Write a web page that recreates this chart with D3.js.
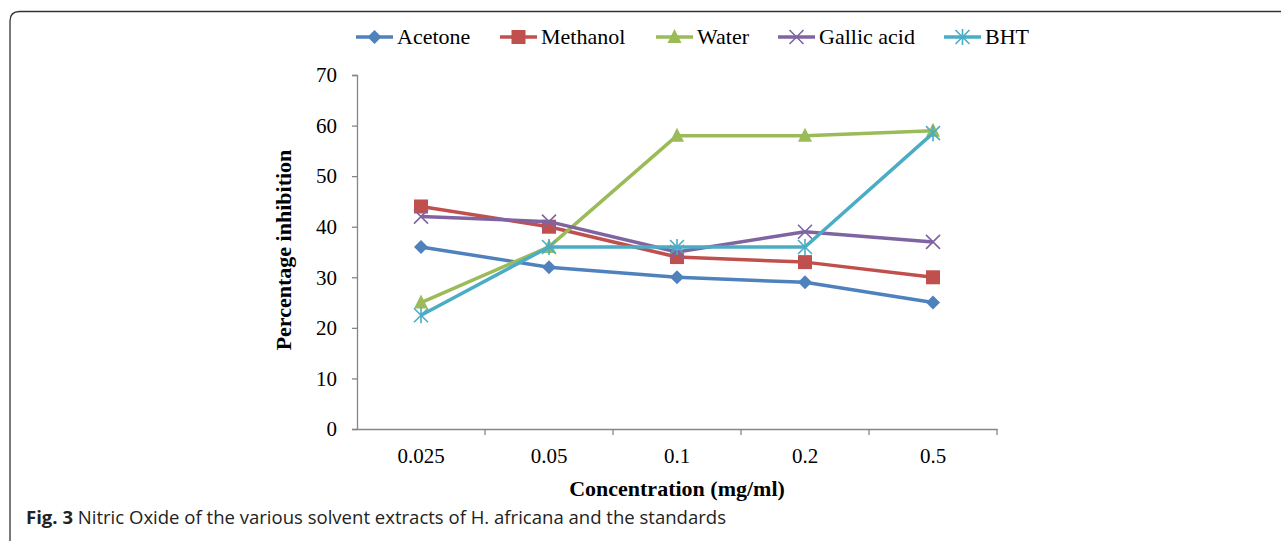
<!DOCTYPE html>
<html><head><meta charset="utf-8">
<script src="https://cdn.jsdelivr.net/npm/d3@7"></script>
<style>body{margin:0;background:#fff}svg{display:block}</style>
</head><body>
<svg id="c" width="1281" height="541"></svg>
<script>
const categories = ["0.025","0.05","0.1","0.2","0.5"];
const acetone = [36,32,30,29,25];
const methanol = [44,40,34,33,30];
const water = [25,36,58,58,59];
const gallic = [42,41,35,39,37];
const bht = [22.5,36,36,36,58.5];
const yTicks = [0,10,20,30,40,50,60,70];
const seriesNames = ["Acetone","Methanol","Water","Gallic acid","BHT"];
const seriesColors = ["#4F81BD","#C0504D","#9BBB59","#8064A2","#4BACC6"];
const seriesMarkers = ["diamond","square","triangle","x","asterisk"];
const seriesData = [acetone,methanol,water,gallic,bht];

(function(){
const svg = d3.select("#c");
const pL=357, pR=997, pT=75, pB=429;
const x = d3.scaleBand().domain(categories).range([pL,pR]);
const y = d3.scaleLinear().domain([0,70]).range([pB,pT]);
const serif = "'Liberation Serif','Times New Roman',serif";
const axisColor = "#868686";

// frame
svg.append("path").attr("d","M10,541 L10,21 Q10,11.5 19.5,11.5 L1281,11.5")
  .attr("fill","none").attr("stroke","#333").attr("stroke-width",1.3);

// y axis
const ya = svg.append("g").attr("transform",`translate(${pL},0)`)
  .call(d3.axisLeft(y).tickValues(yTicks).tickSize(5).tickPadding(15).tickFormat(d3.format("d")));
ya.select(".domain").attr("stroke",axisColor).attr("stroke-width",1.3);
ya.selectAll(".tick line").attr("stroke",axisColor).attr("stroke-width",1.3);
ya.selectAll("text").attr("font-family",serif).attr("font-size",21).attr("fill","#000");

// x axis
const xa = svg.append("g").attr("transform",`translate(0,${pB})`)
  .call(d3.axisBottom(x).tickSize(0).tickPadding(19));
xa.select(".domain").attr("stroke",axisColor).attr("stroke-width",1.3);
xa.selectAll("text").attr("font-family",serif).attr("font-size",21).attr("fill","#000");
const bounds = categories.map((c)=>x(c)+x.bandwidth());
xa.selectAll(".btick").data(bounds).enter().append("line")
  .attr("x1",d=>d).attr("x2",d=>d).attr("y1",0).attr("y2",6)
  .attr("stroke",axisColor).attr("stroke-width",1.3);

// titles
svg.append("text").attr("x",677).attr("y",496).attr("text-anchor","middle")
  .attr("font-family",serif).attr("font-size",22).attr("font-weight","bold").text("Concentration (mg/ml)");
svg.append("text").attr("transform","translate(291,250) rotate(-90)").attr("text-anchor","middle")
  .attr("font-family",serif).attr("font-size",22).attr("font-weight","bold").text("Percentage inhibition");

function marker(g, type, color){
  if(type==="diamond") g.append("path").attr("d","M0,-7L7,0L0,7L-7,0Z").attr("fill",color);
  else if(type==="square") g.append("rect").attr("x",-7).attr("y",-7).attr("width",14).attr("height",14).attr("fill",color);
  else if(type==="triangle") g.append("path").attr("d","M0,-8L7,6L-7,6Z").attr("fill",color);
  else if(type==="x") g.append("path").attr("d","M-7,-7L7,7M-7,7L7,-7").attr("stroke",color).attr("stroke-width",1.6).attr("fill","none");
  else if(type==="asterisk") g.append("path").attr("d","M-7,-7L7,7M-7,7L7,-7M0,-8L0,8").attr("stroke",color).attr("stroke-width",1.6).attr("fill","none");
}

const line = d3.line().x((d,i)=>x(categories[i])+x.bandwidth()/2).y(d=>y(d));
seriesData.forEach((vals,si)=>{
  const g = svg.append("g");
  g.append("path").attr("d",line(vals)).attr("fill","none")
    .attr("stroke",seriesColors[si]).attr("stroke-width",3.5).attr("stroke-linejoin","round");
  vals.forEach((v,i)=>{
    const mg = g.append("g").attr("transform",`translate(${x(categories[i])+x.bandwidth()/2},${y(v)})`);
    marker(mg, seriesMarkers[si], seriesColors[si]);
  });
});

// legend
const legX = [356,500,656,778,944];
seriesNames.forEach((n,i)=>{
  const g = svg.append("g").attr("transform",`translate(${legX[i]},37)`);
  g.append("line").attr("x1",0).attr("x2",37).attr("stroke",seriesColors[i]).attr("stroke-width",3.5);
  const mg = g.append("g").attr("transform","translate(18.5,0)");
  marker(mg, seriesMarkers[i], seriesColors[i]);
  g.append("text").attr("x",41).attr("y",7).attr("font-family",serif).attr("font-size",22).text(n);
});

// caption
const cap = svg.append("text").attr("x",26).attr("y",524).attr("font-family","'Open Sans','Noto Sans',sans-serif").attr("font-size",17.5).attr("fill","#222")
  .attr("textLength",700).attr("lengthAdjust","spacingAndGlyphs");
cap.append("tspan").attr("font-weight","bold").text("Fig. 3");
cap.append("tspan").text(" Nitric Oxide of the various solvent extracts of H. africana and the standards");
})();
</script>
</body></html>
